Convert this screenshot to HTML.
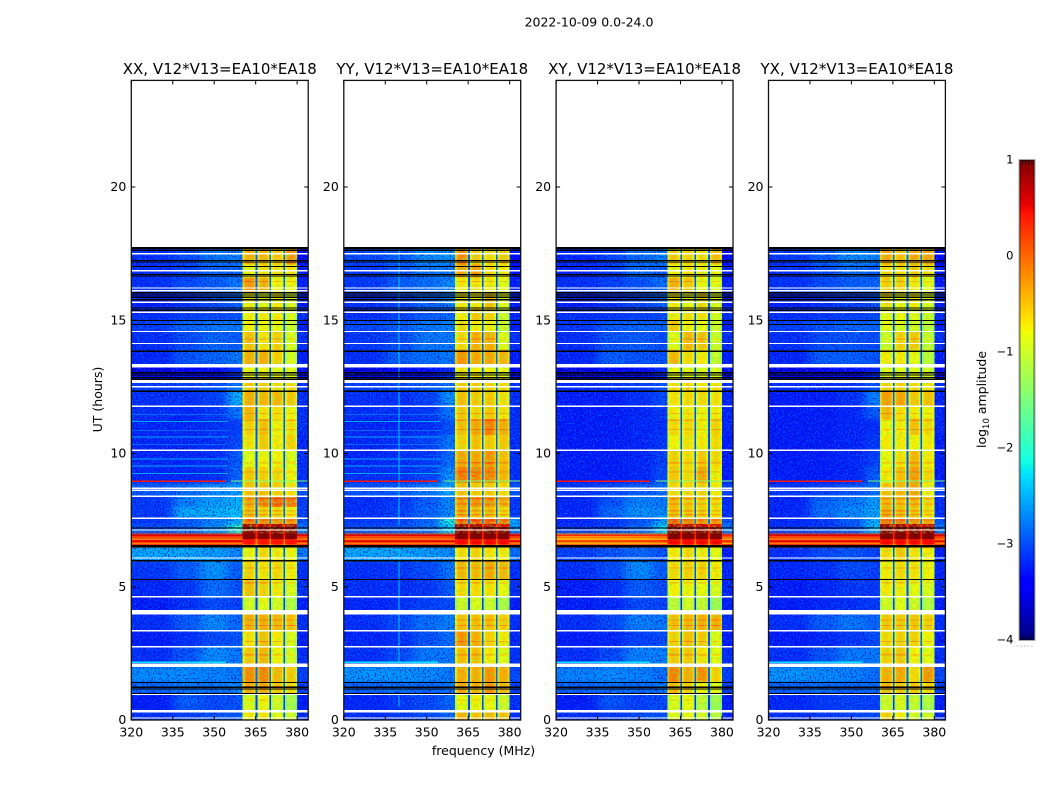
<!DOCTYPE html>
<html>
<head>
<meta charset="utf-8">
<title>2022-10-09 spectrogram</title>
<style>
html,body{margin:0;padding:0;background:#fff;width:1050px;height:800px;overflow:hidden}
svg{display:block}
text{font-family:"DejaVu Sans","Liberation Sans",sans-serif;fill:#000}
</style>
</head>
<body>
<svg id="figure" xmlns="http://www.w3.org/2000/svg" width="1050" height="800" viewBox="0 0 1050 800">
  <defs id="defs">
    <filter id="speckle-dark" x="0" y="0" width="1" height="1" color-interpolation-filters="sRGB">
      <feTurbulence type="fractalNoise" baseFrequency="0.6" numOctaves="1" seed="4"/>
      <feColorMatrix type="matrix" values="0 0 0 0 0  0 0 0 0 0  0 0 0 0 0.72  4 0 0 0 -1.9"/>
    </filter>
    <filter id="speckle-light" x="0" y="0" width="1" height="1" color-interpolation-filters="sRGB">
      <feTurbulence type="fractalNoise" baseFrequency="0.6" numOctaves="1" seed="11"/>
      <feColorMatrix type="matrix" values="0 0 0 0 0  0 0 0 0 0.62  0 0 0 0 1  0 4 0 0 -2.05"/>
    </filter>
    <filter id="mottle-orange" x="0" y="0" width="1" height="1" color-interpolation-filters="sRGB">
      <feTurbulence type="fractalNoise" baseFrequency="0.3 0.4" numOctaves="2" seed="7"/>
      <feColorMatrix type="matrix" values="0 0 0 0 1  0 0 0 0 0.5  0 0 0 0 0  3 0 0 0 -1.4"/>
    </filter>
    <filter id="mottle-green" x="0" y="0" width="1" height="1" color-interpolation-filters="sRGB">
      <feTurbulence type="fractalNoise" baseFrequency="0.3 0.4" numOctaves="2" seed="21"/>
      <feColorMatrix type="matrix" values="0 0 0 0 0.45  0 0 0 0 1  0 0 0 0 0.3  0 3 0 0 -1.35"/>
    </filter>
    <filter id="bg-soften" filterUnits="userSpaceOnUse" x="0" y="0" width="1050" height="800" color-interpolation-filters="sRGB">
      <feGaussianBlur stdDeviation="5 1.2"/>
    </filter>
  </defs>
  <text x="589" y="26.5" font-size="12.5" text-anchor="middle">2022-10-09 0.0-24.0</text>
  <text x="483.5" y="755" font-size="12.5" text-anchor="middle">frequency (MHz)</text>
  <text x="0" y="0" font-size="12.5" text-anchor="middle" transform="translate(102,399.5) rotate(-90)">UT (hours)</text>
  <text x="0" y="0" font-size="12.5" text-anchor="middle" transform="translate(986,399.5) rotate(-90)">log<tspan font-size="8.5" dy="3">10</tspan><tspan dy="-3"> amplitude</tspan></text>
  <g id="panels"></g>
  <g id="colorbar"></g>
</svg>
<script>
// time-bin boundaries in hours UT (36 bins)
const timeEdges = [0,.35,1,1.45,2,2.75,3.35,3.95,4.6,5.3,5.97,6.5,6.6,6.8,7,7.15,7.35,7.6,8,8.4,8.9,9.5,10.1,10.7,11.3,11.8,12.35,12.8,13.3,13.9,14.6,15,15.5,16,16.6,17.1,17.74];
// background frequency ranges in MHz
const bgRanges = [[320,335],[335,345],[345,355],[355,360.3],[380,384]];
// the four instrument band blocks in MHz
const bandBlocks = [[360.3,365],[365.6,370],[370.6,375],[375.6,380]];
// the shape of a block across its channels, log10 offset
const blockShape = [-.3,-.05,0,.03,.03,0,-.05,-.25];
const gapLevel = -3;

// log10 amplitude per time bin: background ranges
const bgXX = [
[-3,-2.9,-2.8,-2.75,-3],[-3.1,-2.75,-2.85,-2.8,-3.1],[-2.7,-2.6,-2.6,-2.5,-2.9],[-2.5,-2.5,-2.55,-2.6,-2.9],
[-3,-2.8,-2.5,-2.6,-3],[-3.1,-3,-2.85,-2.8,-3.1],[-3,-2.75,-2.5,-2.7,-3],[-3.1,-3,-2.85,-2.9,-3.1],
[-3.05,-2.95,-2.65,-2.8,-3],[-2.95,-2.75,-2.45,-2.75,-3],[-2.35,-2.35,-2.4,-2.5,-2.6],[.15,.15,.15,.15,.15],
[.45,.45,.45,.45,.3],[.3,.3,.3,.35,.35],[-2.7,-2.6,-2.4,-1.8,-2.5],[-2.85,-2.75,-2.5,-1.8,-2.6],
[-2.95,-2.75,-2.55,-2.3,-2.8],[-2.95,-2.35,-2.3,-2.2,-2.9],[-2.95,-2.55,-2.4,-2.3,-2.9],[-2.75,-2.65,-2.5,-2.4,-2.8],
[-3.05,-3.05,-3,-2.7,-3],[-3.05,-3.05,-3,-2.75,-3],[-3.05,-3.05,-3,-2.85,-3.05],[-3.05,-3.05,-3,-2.9,-3],
[-3,-3.05,-2.95,-2.6,-3],[-3,-3,-2.9,-2.3,-3],[-2.9,-2.9,-2.8,-2.6,-3],[-3.4,-3.3,-3.2,-3,-3.3],
[-3.05,-2.8,-2.7,-2.6,-3.1],[-3,-2.85,-2.7,-2.75,-3],[-2.9,-2.7,-2.6,-2.6,-3.1],[-3,-2.9,-2.85,-2.8,-3],
[-3.1,-3,-2.8,-2.7,-3.1],[-3,-2.85,-2.75,-2.6,-3.1],[-3,-2.9,-2.7,-2.7,-3.1],[-3,-2.85,-2.6,-2.55,-3.2]];
const bgYY = [
[-3,-2.95,-2.85,-2.65,-3],[-3.05,-2.95,-2.85,-2.7,-3],[-2.7,-2.65,-2.7,-2.6,-2.9],[-2.45,-2.45,-2.5,-2.6,-2.85],
[-3,-2.85,-2.6,-2.6,-3],[-3.05,-3,-2.8,-2.65,-3.05],[-3,-2.85,-2.65,-2.55,-3],[-3.05,-3,-2.9,-2.85,-3.1],
[-3,-3,-2.95,-2.75,-3],[-3,-2.95,-2.85,-2.6,-3],[-2.35,-2.35,-2.4,-2.5,-2.65],[.2,.2,.2,.2,.2],
[.4,.4,.4,.4,.3],[.1,.1,.15,.3,.35],[-2.75,-2.7,-2.6,-2,-2.5],[-2.85,-2.8,-2.65,-2.1,-2.4],
[-2.95,-2.9,-2.7,-1.9,-2.4],[-3,-2.9,-2.7,-2.5,-2.95],[-3,-2.95,-2.75,-2.5,-2.95],[-2.8,-2.75,-2.6,-2.35,-2.8],
[-3,-3,-2.9,-2.45,-3],[-3.05,-3,-2.95,-2.65,-3],[-3.05,-3,-2.9,-2.6,-3],[-3.05,-3.05,-3,-2.8,-3],
[-3,-3,-2.95,-2.6,-3],[-3,-3,-2.9,-2.45,-3],[-2.9,-2.85,-2.75,-2.6,-3],[-3.4,-3.3,-3.2,-3,-3.3],
[-3,-2.75,-2.65,-2.6,-3.1],[-2.95,-2.85,-2.6,-2.6,-3],[-2.85,-2.75,-2.6,-2.55,-3.1],[-3,-2.9,-2.75,-2.7,-3.05],
[-3,-2.9,-2.7,-2.55,-3.1],[-2.95,-2.75,-2.65,-2.5,-3.1],[-2.95,-2.8,-2.6,-2.6,-3.15],[-2.85,-2.75,-2.5,-2.45,-3.2]];
const bgXY = [
[-3,-2.95,-2.85,-2.8,-3.05],[-3.1,-2.8,-2.9,-2.85,-3.1],[-2.7,-2.65,-2.65,-2.6,-2.9],[-2.55,-2.5,-2.55,-2.65,-2.9],
[-3,-2.85,-2.55,-2.55,-3],[-3.1,-3.05,-2.9,-2.85,-3.1],[-3,-2.85,-2.55,-2.6,-3],[-3.1,-3.05,-2.85,-2.9,-3.1],
[-3.1,-3,-2.75,-2.85,-3.05],[-3,-2.85,-2.5,-2.75,-3.05],[-2.9,-2.8,-2.7,-2.8,-3.1],[.1,.1,.1,.15,.15],
[-.1,-.1,0,.25,.4],[-.4,-.35,-.3,.1,.3],[-2.9,-2.8,-2.7,-2.1,-2.5],[-3,-2.95,-2.7,-2.1,-2.6],
[-3.05,-2.95,-2.8,-2.4,-2.8],[-3.05,-2.7,-2.45,-2.5,-3],[-3.05,-2.8,-2.55,-2.6,-3],[-2.95,-2.85,-2.75,-2.65,-2.9],
[-3.1,-3.1,-3.05,-2.85,-3.1],[-3.1,-3.1,-3.05,-2.9,-3.1],[-3.1,-3.1,-3.05,-2.95,-3.1],[-3.1,-3.1,-3.05,-3,-3.05],
[-3.1,-3.1,-3.05,-2.95,-3.05],[-3.1,-3.1,-3,-2.85,-3.05],[-3,-2.95,-2.9,-2.8,-3],[-3.4,-3.3,-3.2,-3.05,-3.3],
[-3.05,-2.75,-2.8,-2.8,-3.1],[-3,-2.8,-2.75,-2.85,-3],[-2.95,-2.75,-2.7,-2.7,-3.1],[-3,-2.95,-2.9,-2.85,-3],
[-3.1,-3,-2.85,-2.7,-3.1],[-3,-2.9,-2.8,-2.65,-3.1],[-3.05,-2.95,-2.65,-2.75,-3.1],[-3.05,-2.9,-2.65,-2.55,-3.2]];
const bgYX = [
[-3,-2.95,-2.9,-2.85,-3.05],[-3.05,-2.95,-2.9,-2.9,-3.1],[-2.7,-2.65,-2.7,-2.65,-2.9],[-2.45,-2.5,-2.55,-2.65,-2.85],
[-3,-2.8,-2.6,-2.6,-3],[-3.1,-3.05,-2.95,-2.85,-3.1],[-3,-2.75,-2.6,-2.7,-3],[-3.1,-3.05,-3,-2.95,-3.1],
[-3.1,-3.05,-2.95,-2.95,-3.05],[-3.05,-3,-2.85,-2.9,-3.05],[-3,-2.85,-2.8,-2.9,-3.1],[.25,.25,.25,.25,.2],
[.45,.45,.45,.45,.3],[.2,.2,.25,.4,.4],[-2.85,-2.8,-2.7,-2.2,-2.5],[-3,-2.95,-2.8,-2.2,-2.6],
[-3.05,-2.95,-2.75,-2.3,-2.8],[-3.05,-2.65,-2.5,-2.35,-3],[-3.05,-2.7,-2.6,-2.4,-3],[-2.95,-2.9,-2.8,-2.65,-2.9],
[-3.1,-3.1,-3.05,-2.75,-3.1],[-3.1,-3.1,-3.05,-2.9,-3.1],[-3.1,-3.1,-3.05,-2.95,-3.1],[-3.1,-3.1,-3.05,-3,-3.05],
[-3.1,-3.1,-3.05,-2.75,-3.05],[-3.1,-3.1,-3,-2.55,-3.05],[-3,-3,-2.95,-2.8,-3],[-3.4,-3.3,-3.2,-3.05,-3.3],
[-3.05,-2.75,-2.75,-2.8,-3.1],[-3,-2.85,-2.8,-2.85,-3],[-2.9,-2.8,-2.7,-2.7,-3.1],[-3,-2.95,-2.9,-2.85,-3],
[-3.1,-3,-2.9,-2.8,-3.1],[-3,-2.85,-2.75,-2.7,-3.1],[-3,-2.85,-2.65,-2.75,-3.1],[-2.95,-2.75,-2.5,-2.55,-3.2]];

// log10 amplitude per time bin: instrument band blocks
const bandXX = [
[-.7,-.65,-.85,-.95],[-.9,-.75,-1,-1.25],[-.35,-.3,-.5,-.6],[-.15,-.1,-.4,-.5],
[-.5,-.4,-.75,-.95],[-.65,-.45,-.7,-.9],[-.35,-.35,-.4,-.45],[-.95,-.85,-.95,-1.15],
[-.45,-.55,-.7,-.9],[-.55,-.65,-.6,-.7],[-.75,-.6,-.7,-.75],[.2,.2,.2,.2],
[.45,.45,.45,.45],[1,1,1,1],[.95,.95,.95,.95],[.9,.8,.8,.75],
[-.05,-.15,-.2,-.2],[-.45,-.55,-.6,-.7],[-.3,-.15,0,-.1],[-.45,-.45,-.55,-.65],
[-.5,-.55,-.6,-.75],[-.85,-.75,-.75,-.85],[-.65,-.5,-.7,-.55],[-.55,-.45,-.75,-.65],
[-.4,-.65,-.65,-.75],[-.35,-.4,-.4,-.5],[-.5,-.5,-.6,-.6],[-.75,-.75,-.8,-.85],
[-.35,-.35,-.55,-.9],[-.45,-.65,-.55,-.9],[-.75,-.75,-.8,-1],[-.75,-.7,-.7,-.9],
[-.75,-.85,-.7,-.9],[-.2,-.35,-.75,-.75],[-.75,-.65,-.65,-.65],[-.35,-.4,-.5,-.2]];
const bandYY = [
[-.35,-.45,-.4,-.45],[-.8,-.75,-.8,-1],[-.3,-.35,-.2,-.4],[-.35,-.35,-.2,-.35],
[-.45,-.45,-.7,-.85],[-.2,-.35,-.55,-.7],[-.45,-.45,-.45,-.55],[-1,-.9,-1,-1.2],
[-.6,-.6,-.65,-.8],[-.4,-.4,-.3,-.4],[-.6,-.55,-.65,-.7],[.3,.3,.3,.3],
[.5,.5,.5,.5],[1,1,1,1],[1,1,1,1],[.85,.8,.75,.6],
[.05,.1,.05,-.05],[-.35,-.45,-.45,-.6],[-.25,-.2,-.2,-.35],[-.45,-.5,-.5,-.6],
[-.05,-.1,-.1,-.4],[-.3,-.3,-.2,-.45],[-.55,-.45,-.5,-.5],[-.45,-.3,-.1,-.35],
[-.5,-.55,-.5,-.65],[-.45,-.5,-.5,-.65],[-.5,-.5,-.55,-.6],[-.7,-.7,-.75,-.8],
[-.2,-.3,-.3,-.4],[-.6,-.35,-.35,-.9],[-.6,-.7,-.75,-1],[-.7,-.5,-.55,-1],
[-.7,-.7,-.45,-.85],[-.7,-.65,-.7,-.85],[-.3,-.25,-.6,-.7],[-.15,-.5,-.6,-.5]];
const bandXY = [
[-.85,-.8,-.95,-1.1],[-.9,-.8,-1.1,-1.3],[-.4,-.55,-.75,-.85],[-.1,-.35,-.15,-.55],
[-.5,-.5,-.65,-.85],[-.55,-.45,-.5,-.85],[-.45,-.4,-.35,-.35],[-1.1,-.95,-1.05,-1.3],
[-.75,-.75,-.8,-.9],[-.6,-.55,-.55,-.7],[-.7,-.6,-.7,-.8],[.3,.3,.3,.3],
[.5,.5,.5,.5],[1,1,1,1],[1,1,1,1],[.8,.75,.7,.6],
[.1,-.1,-.15,-.2],[-.45,-.5,-.55,-.65],[-.4,-.5,-.55,-.6],[-.6,-.6,-.55,-.7],
[-.5,-.6,-.3,-.7],[-.55,-.6,-.5,-.6],[-.75,-.65,-.7,-.6],[-.6,-.6,-.75,-.55],
[-.7,-.7,-.75,-.7],[-.65,-.6,-.6,-.65],[-.6,-.6,-.65,-.65],[-.8,-.8,-.85,-.9],
[-.4,-.6,-.7,-1.05],[-.85,-.4,-.45,-1],[-.5,-.75,-.8,-1],[-.7,-.65,-.65,-.9],
[-.7,-.8,-.6,-.9],[-.35,-.5,-.8,-.85],[-.75,-.65,-.7,-.8],[-.5,-.55,-.6,-.45]];
const bandYX = [
[-.55,-.7,-.9,-.95],[-1,-.9,-1.05,-1.2],[-.4,-.5,-.5,-.6],[-.35,-.3,-.6,-.2],
[-.55,-.5,-.75,-.85],[-.6,-.55,-.55,-.75],[-.5,-.5,-.5,-.55],[-.95,-.85,-.95,-1.15],
[-.7,-.7,-.8,-.9],[-.7,-.6,-.65,-.75],[-.6,-.5,-.65,-.7],[.3,.3,.3,.3],
[.5,.5,.5,.5],[1,1,1,1],[1,1,1,1],[.85,.85,.8,.7],
[-.05,-.05,-.2,-.3],[-.35,-.45,-.5,-.65],[-.4,-.45,-.4,-.6],[-.45,-.4,-.3,-.7],
[-.7,-.45,-.25,-.6],[-.8,-.65,-.4,-.7],[-.7,-.7,-.75,-.7],[-.75,-.7,-.45,-.6],
[-.4,-.65,-.7,-.75],[-.25,-.3,-.5,-.45],[-.55,-.55,-.6,-.65],[-.85,-.85,-.9,-.95],
[-.7,-.7,-.8,-1.1],[-1,-.55,-.5,-1.05],[-.85,-.9,-.95,-1.1],[-.85,-.8,-.85,-1],
[-.65,-.8,-.7,-.9],[-.55,-.55,-.7,-.85],[-.6,-.6,-.5,-.6],[-.3,-.45,-.3,-.25]];

// narrow features: hour, level
const rfiLowBandRows = [[8.96,.45],[2.17,-2.25]];
const rfiBandRows = [[8.96,-1.5]];
const faintRowHours = [9.25,9.53,9.79,10.35,10.62,10.87,11.2,11.47];
const faintRowLevel = -2.55;
const bandStripeHours = [.75,1.25,2.45,2.95,3.55,3.75,5.15,5.7,7.5,7.7,7.85,8.1,8.3,9.3,9.65,10.9,11.25,11.5,14.3,16.45];
const bandStripeBoost = .3;
const rfiChannelMHz = 340;
const rfiChannelLevel = -2.4;
const rfiChannelSpans = [[.5,1],[2.2,6.4],[7.3,17.7]];
// orange and deep-red striping of the strong interference hours
const hotStripeRows = [[6.63,-.1],[6.71,.55],[6.79,-.15],[6.86,.2],[6.94,.6]];

// flagged integrations: hour, thickness in hours
const whiteFlags = [[.08,.045],[.33,.09],[.96,.05],[2.05,.14],[2.75,.05],[3.35,.05],[4.04,.17],[4.62,.05],[6.08,.05],[7.13,.05],[7.57,.05],[8.4,.05],[8.62,.04],[8.7,.05],[10.12,.05],[11.77,.05],[12.5,.05],[12.7,.12],[13.29,.13],[14.13,.05],[14.58,.05],[15.3,.05],[15.68,.05],[16.11,.05],[16.21,.05],[16.86,.05],[17.5,.05]];
const blackFlags = [[1,.04],[1.16,.04],[1.23,.04],[1.41,.04],[5.28,.04],[5.98,.05],[6.52,.09],[7.2,.04],[12.34,.05],[12.78,.05],[12.85,.04],[12.94,.04],[13.03,.05],[13.84,.05],[14.84,.04],[14.99,.04],[15.38,.05],[15.46,.05],[15.77,.05],[15.86,.05],[15.95,.05],[16.03,.05],[16.66,.05],[16.71,.04],[17.02,.05],[17.19,.04],[17.24,.05],[17.62,.06],[17.71,.06]];

const xTickValues = [320,335,350,365,380];
const xTickLabels = ['320','335','350','365','380'];
const yTickValues = [0,5,10,15,20];
const yTickLabels = ['0','5','10','15','20'];
const colorbarTickValues = [1,0,-1,-2,-3,-4];
const colorbarTickLabels = ['1','0','\u22121','\u22122','\u22123','\u22124'];

const panelTitles = ['XX, V12*V13=EA10*EA18','YY, V12*V13=EA10*EA18','XY, V12*V13=EA10*EA18','YX, V12*V13=EA10*EA18'];
const panelKeys = ['xx','yy','xy','yx'];
const panelBg = [bgXX,bgYY,bgXY,bgYX];
const panelBand = [bandXX,bandYY,bandXY,bandYX];
const panelFaintRows = [true,true,false,false];
const panelRfiChannel = [false,true,false,false];
const panelHotStripeShift = [0,0,-.25,0];

// layout
const frameLeft = [131.3,343.8,556.1,768.5];
const frameWidth = 176.9;
const frameTop = 80.4;
const frameBottom = 720;
const bgDisplayOffset = -0.15;
const NS = 'http://www.w3.org/2000/svg';

function jet(v){
  const t = Math.max(0,Math.min(1,(v+4)/5));
  function pw(pts){
    for(let i=1;i<pts.length;i++){
      if(t<=pts[i][0]){
        const a=pts[i-1],b=pts[i];
        return a[1]+(b[1]-a[1])*(t-a[0])/(b[0]-a[0]);
      }
    }
    return pts[pts.length-1][1];
  }
  const r=pw([[0,0],[.35,0],[.66,1],[.89,1],[1,.5]]);
  const g=pw([[0,0],[.125,0],[.375,1],[.64,1],[.91,0],[1,0]]);
  const b=pw([[0,.5],[.11,1],[.34,1],[.65,0],[1,0]]);
  return 'rgb('+Math.round(r*255)+','+Math.round(g*255)+','+Math.round(b*255)+')';
}
function make(parent,tag,attrs){
  const el=document.createElementNS(NS,tag);
  for(const k in attrs){el.setAttribute(k,attrs[k]);}
  parent.appendChild(el);
  return el;
}

const panelsRoot=document.getElementById('panels');
const defsRoot=document.getElementById('defs');
const topHour=timeEdges[timeEdges.length-1];
const quietSpans=[[0,6.5],[7,topHour]];

panelKeys.forEach(function(key,p){
  const left=frameLeft[p];
  const xOf=function(f){return left+(f-320)*frameWidth/64;};
  const yOf=function(h){return frameBottom-(h/24)*(frameBottom-frameTop);};
  const bg=panelBg[p], band=panelBand[p];
  const lastRow=timeEdges.length-2;

  const clip=make(defsRoot,'clipPath',{id:'data-clip-'+key});
  make(clip,'rect',{x:xOf(320),y:yOf(topHour),width:frameWidth,height:yOf(0)-yOf(topHour)});

  const group=make(panelsRoot,'g',{});
  
  

  const title=make(group,'text',{x:left+frameWidth/2,y:74,'font-size':15,'text-anchor':'middle'});
  title.textContent=panelTitles[p];
  
  

  function cell(parent,f0,f1,h0,h1,level){
    const y0=yOf(h1),y1=yOf(h0);
    const r=make(parent,'rect',{x:xOf(f0).toFixed(2),y:y0.toFixed(2),width:(xOf(f1)-xOf(f0)).toFixed(2),height:(y1-y0).toFixed(2),fill:jet(level),'shape-rendering':'crispEdges'});
    
    
    return r;
  }
  function drawBand(parent,row,h0,h1,boost){
    bandBlocks.forEach(function(block,b){
      const n=blockShape.length, w=(block[1]-block[0])/n;
      blockShape.forEach(function(off,c){
        const lv=band[row][b]+off*(band[row][b]>.3?0.3:1)+boost;
        cell(parent,block[0]+c*w,block[0]+(c+1)*w,h0,h1,lv);
      });
    });
  }
  function drawGaps(parent,row,h0,h1){
    const mean=band[row].reduce(function(s,v){return s+v;},0)/4;
    const gap=mean>.1?mean-.6:gapLevel+.35*(mean+.7);
    for(let b=0;b<bandBlocks.length-1;b++){
      cell(parent,bandBlocks[b][1],bandBlocks[b+1][0],h0,h1,gap);
    }
  }
  function rowOf(h){
    for(let i=0;i<timeEdges.length-1;i++){ if(h<timeEdges[i+1]) return i; }
    return timeEdges.length-2;
  }

  // softened background layer, extended past the frame so the blur has no fading edges
  const bgClip=make(group,'g',{'clip-path':'url(#data-clip-'+key+')'});
  
  
  const bgLayer=make(bgClip,'g',{filter:'url(#bg-soften)'});
  
  
  for(let i=0;i<=lastRow;i++){
    const h0=i===0?-2:timeEdges[i], h1=i===lastRow?timeEdges[i+1]+2:timeEdges[i+1];
    bgRanges.forEach(function(range,c){
      const f0=c===0?range[0]-12:(c===4?370:range[0]);
      const f1=c===4?range[1]+12:(c===3?370:range[1]);
      const lv=bg[i][c]<-1.5?bg[i][c]+bgDisplayOffset:bg[i][c];
      cell(bgLayer,f0,f1,h0,h1,lv);
    });
  }

  const speckle=make(group,'g',{});
  
  
  quietSpans.forEach(function(q){
    [[320,360.3],[380,384]].forEach(function(span){
      ['speckle-dark','speckle-light'].forEach(function(id){
        const s=make(speckle,'rect',{x:xOf(span[0]),y:yOf(q[1]),width:xOf(span[1])-xOf(span[0]),height:yOf(q[0])-yOf(q[1]),filter:'url(#'+id+')',opacity:id==='speckle-dark'?.7:.5});
        
        
      });
    });
  });

  const hot=make(group,'g',{});
  
  
  hotStripeRows.forEach(function(r){
    const lv=r[1]+panelHotStripeShift[p];
    cell(hot,320,360.3,r[0]-.03,r[0]+.03,lv);
    cell(hot,380,384,r[0]-.03,r[0]+.03,lv);
  });

  const heat=make(group,'g',{});
  
  
  for(let i=0;i<=lastRow;i++){
    drawBand(heat,i,timeEdges[i],timeEdges[i+1],0);
  }
  bandStripeHours.forEach(function(h){ drawBand(heat,rowOf(h),h-.022,h+.022,bandStripeBoost); });

  const mottle=make(group,'g',{});
  
  
  quietSpans.forEach(function(q){
    ['mottle-orange','mottle-green'].forEach(function(id){
      const s=make(mottle,'rect',{x:xOf(360.3),y:yOf(q[1]),width:xOf(380)-xOf(360.3),height:yOf(q[0])-yOf(q[1]),filter:'url(#'+id+')',opacity:id==='mottle-orange'?.28:.5});
      
      
    });
  });

  const gaps=make(group,'g',{});
  
  
  for(let i=0;i<=lastRow;i++){
    drawGaps(gaps,i,timeEdges[i],timeEdges[i+1]);
  }

  const narrow=make(group,'g',{});
  
  
  if(panelFaintRows[p]){
    faintRowHours.forEach(function(h){ cell(narrow,320,355,h-.015,h+.015,faintRowLevel); });
  }
  if(panelRfiChannel[p]){
    rfiChannelSpans.forEach(function(sp){ cell(narrow,rfiChannelMHz-.15,rfiChannelMHz+.15,sp[0],sp[1],rfiChannelLevel); });
  }
  rfiLowBandRows.forEach(function(r){ cell(narrow,320,354,r[0]-.028,r[0]+.028,r[1]); });
  rfiBandRows.forEach(function(r){ cell(narrow,356,384,r[0]-.018,r[0]+.018,r[1]); });

  const flags=make(group,'g',{'shape-rendering':'crispEdges'});
  
  
  whiteFlags.forEach(function(fl){
    const r=make(flags,'rect',{x:xOf(320),y:yOf(fl[0]+fl[1]/2),width:frameWidth,height:fl[1]*26.67,fill:'#fff'});
    
    
  });
  blackFlags.forEach(function(fl){
    const r=make(flags,'rect',{x:xOf(320),y:yOf(fl[0]+fl[1]/2),width:frameWidth,height:fl[1]*26.67,fill:'#000'});
    
    
  });

  const frame=make(group,'rect',{x:left,y:frameTop,width:frameWidth,height:frameBottom-frameTop,fill:'none',stroke:'#111','stroke-width':1.3});
  
  

  xTickValues.forEach(function(v,i){
    const x=xOf(v);
    [[frameBottom,frameBottom-4],[frameTop,frameTop+4]].forEach(function(e){
      const t=make(group,'line',{x1:x,x2:x,y1:e[0],y2:e[1],stroke:'#000','stroke-width':1});
      
      
    });
    const lab=make(group,'text',{x:x,y:736.5,'font-size':12.5,'text-anchor':'middle'});
    lab.textContent=xTickLabels[i];
    
    
  });
  yTickValues.forEach(function(v,i){
    const y=yOf(v);
    [[left,left+4],[left+frameWidth,left+frameWidth-4]].forEach(function(e){
      const t=make(group,'line',{x1:e[0],x2:e[1],y1:y,y2:y,stroke:'#000','stroke-width':1});
      
      
    });
    const lab=make(group,'text',{x:left-5,y:y+4,'font-size':12.5,'text-anchor':'end'});
    lab.textContent=yTickLabels[i];
    
    
  });
});

// colorbar
const cb=document.getElementById('colorbar');
const cbLeft=1019.5,cbWidth=15,cbTop=160,cbBottom=640;
const cbY=function(v){return cbBottom-(v+4)/5*(cbBottom-cbTop);};
const ramp=make(cb,'g',{'shape-rendering':'crispEdges'});


for(let k=0;k<240;k++){
  const lo=-4+k*5/240, hi=-4+(k+1)*5/240;
  const r=make(ramp,'rect',{x:cbLeft,y:cbY(hi),width:cbWidth,height:cbY(lo)-cbY(hi)+.5,fill:jet((lo+hi)/2)});
  
  
}
const cbOuter=make(cb,'rect',{x:cbLeft-.5,y:cbTop-.5,width:cbWidth+1,height:cbBottom-cbTop+1,fill:'none',stroke:'#aaa','stroke-width':1});


const cbInner=make(cb,'rect',{x:cbLeft+.5,y:cbTop+.5,width:cbWidth-1,height:cbBottom-cbTop-1,fill:'none',stroke:'#000','stroke-opacity':.55,'stroke-width':1});


for(let m=1;m<5;m++){
  const x=cbLeft+m*cbWidth/5;
  [[cbTop,cbTop+5],[cbBottom,cbBottom-5]].forEach(function(e){
    const t=make(cb,'line',{x1:x,x2:x,y1:e[0],y2:e[1],stroke:'#000','stroke-width':.8,'stroke-opacity':.8});
    
    
  });
}
const cbDots=make(cb,'line',{x1:1017,x2:1035,y1:646,y2:646,stroke:'#999','stroke-width':1,'stroke-dasharray':'1 2.6'});


colorbarTickValues.forEach(function(v,i){
  const lab=make(cb,'text',{x:1013.5,y:cbY(v)+3.5,'font-size':11.5,'text-anchor':'end'});
  lab.textContent=colorbarTickLabels[i];
  
  
});
</script>
</body>
</html>
